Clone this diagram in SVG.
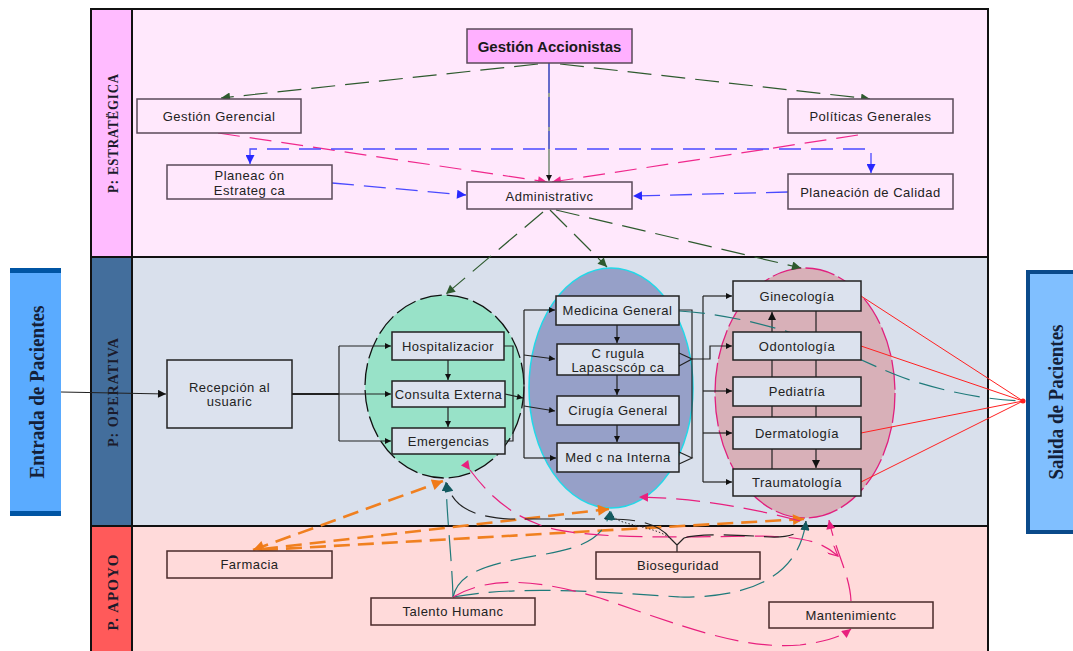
<svg xmlns="http://www.w3.org/2000/svg" width="1073" height="651" viewBox="0 0 1073 651">
  <style>
    .t { font-family: "Liberation Sans", Arial, sans-serif; font-size: 13px; letter-spacing: 0.5px; fill: #222; text-anchor: middle; dominant-baseline: central; }
    .tb { font-family: "Liberation Sans", Arial, sans-serif; font-size: 15px; font-weight: bold; fill: #1a1a1a; text-anchor: middle; dominant-baseline: central; }
    .band { font-family: "Liberation Serif", "Times New Roman", serif; font-size: 15px; font-weight: bold; letter-spacing: 1px; fill: #1b1b2b; text-anchor: middle; dominant-baseline: central; }
    .io { font-family: "Liberation Serif", "Times New Roman", serif; font-size: 20px; font-weight: bold; fill: #142038; text-anchor: middle; dominant-baseline: central; }
    .bs { fill: #FFE8FC; stroke: #5A4A58; stroke-width: 1.5; }
    .bo { fill: #DCE2EE; stroke: #222; stroke-width: 1.5; }
    .ba { fill: #FFDADA; stroke: #4A2A2A; stroke-width: 1.5; }
    .c { fill: none; }
    .dg { stroke: #2E5A2E; stroke-width: 1.2; stroke-dasharray: 24 10; }
    .pk { stroke: #F0288C; stroke-width: 1.2; stroke-dasharray: 22 10; }
    .bl { stroke: #4A4AFF; stroke-width: 1.3; stroke-dasharray: 22 10; }
    .k { stroke: #222; stroke-width: 1.2; }
    .rd { stroke: #FF2020; stroke-width: 1; }
    .tl { stroke: #1F7A7A; stroke-width: 1.2; stroke-dasharray: 26 10; }
    .or { stroke: #F08020; stroke-width: 2.6; stroke-dasharray: 16 8; }
    .mg { stroke: #E8207E; stroke-width: 1.2; stroke-dasharray: 24 10; }
    .kd { stroke: #222; stroke-width: 1.1; stroke-dasharray: 30 10; }
  </style>
  <defs>
    <marker id="mG" viewBox="0 0 10 10" refX="10" refY="5" markerWidth="13" markerHeight="9" markerUnits="userSpaceOnUse" orient="auto"><path d="M0,0 L10,5 L0,10 z" fill="#2E5A2E"/></marker>
    <marker id="mP" viewBox="0 0 10 10" refX="10" refY="5" markerWidth="13" markerHeight="9" markerUnits="userSpaceOnUse" orient="auto"><path d="M0,0 L10,5 L0,10 z" fill="#F0288C"/></marker>
    <marker id="mB" viewBox="0 0 10 10" refX="10" refY="5" markerWidth="13" markerHeight="9" markerUnits="userSpaceOnUse" orient="auto-start-reverse"><path d="M0,0 L10,5 L0,10 z" fill="#2828FF"/></marker>
    <marker id="mK" viewBox="0 0 10 10" refX="10" refY="5" markerWidth="8" markerHeight="6" markerUnits="userSpaceOnUse" orient="auto"><path d="M0,0 L10,5 L0,10 z" fill="#111"/></marker>
    <marker id="mK2" viewBox="0 0 10 10" refX="10" refY="5" markerWidth="12" markerHeight="8" markerUnits="userSpaceOnUse" orient="auto"><path d="M0,0 L10,5 L0,10 z" fill="#111"/></marker>
    <marker id="mO" viewBox="0 0 10 10" refX="10" refY="5" markerWidth="16" markerHeight="11" markerUnits="userSpaceOnUse" orient="auto-start-reverse"><path d="M0,0 L10,5 L0,10 z" fill="#F07A18"/></marker>
    <marker id="mT" viewBox="0 0 10 10" refX="10" refY="5" markerWidth="11" markerHeight="9" markerUnits="userSpaceOnUse" orient="auto"><path d="M0,0 L10,5 L0,10 z" fill="#145A60"/></marker>
    <marker id="mM" viewBox="0 0 10 10" refX="10" refY="5" markerWidth="13" markerHeight="9" markerUnits="userSpaceOnUse" orient="auto"><path d="M0,0 L10,5 L0,10 z" fill="#E8207E"/></marker>
    <marker id="mV" viewBox="0 0 10 10" refX="10" refY="5" markerWidth="12" markerHeight="10" markerUnits="userSpaceOnUse" orient="auto"><path d="M0,0 L10,5 L0,10" fill="none" stroke="#E8207E" stroke-width="1.2"/></marker>
  </defs>

  <!-- swimlane bands -->
  <g id="lanes">
    <rect x="132" y="9" width="856" height="248" fill="#FFE8FC"/>
    <rect x="132" y="257" width="856" height="269" fill="#D9E0EC"/>
    <rect x="132" y="526" width="856" height="125" fill="#FFDADA"/>
    <rect x="91" y="9" width="41" height="248" fill="#FFBBFF"/>
    <rect x="91" y="257" width="41" height="269" fill="#436E9C"/>
    <rect x="91" y="526" width="41" height="125" fill="#FF5A5A"/>
    <path d="M91,652 L91,9 L988,9 L988,652 M132,9 L132,652 M91,257 L988,257 M91,526 L988,526" fill="none" stroke="#111" stroke-width="2"/>
    <text class="band" transform="translate(113,133) rotate(-90)" textLength="120" lengthAdjust="spacingAndGlyphs">P: ESTRATËGICA</text>
    <text class="band" transform="translate(113,392) rotate(-90)" textLength="110" lengthAdjust="spacingAndGlyphs">P: OPERATIVA</text>
    <text class="band" transform="translate(113,592) rotate(-90)" textLength="77" lengthAdjust="spacingAndGlyphs">P. APOYO</text>
  </g>

  <!-- process groupings -->
  <g id="zonas">
    <ellipse cx="444.5" cy="386.5" rx="79.5" ry="91.5" fill="#98E2C8" stroke="#111" stroke-width="1.3" stroke-dasharray="22 5"/>
    <ellipse cx="611" cy="388" rx="82" ry="120" fill="#96A0C8" stroke="#22D8E8" stroke-width="1.5"/>
    <ellipse cx="805" cy="393" rx="90" ry="125" fill="#D8B0B8" stroke="#E0207E" stroke-width="1.3" stroke-dasharray="30 4"/>
  </g>

  <!-- connectors -->
  <g id="connectors" class="c">
    <!-- strategic level -->
    <path class="c dg" d="M538,64 L221,98" marker-end="url(#mG)"/>
    <path class="c dg" d="M560,64 L870,99" marker-end="url(#mG)"/>
    <path class="c" d="M549,63 L549,181" stroke="#2E5A2E" stroke-width="1" marker-end="url(#mK)"/>
    <path class="c" d="M549,63 L549,149" stroke="#3535FF" stroke-width="1" stroke-dasharray="30 4"/>
    <path class="c pk" d="M218,133 L547,182" marker-end="url(#mP)"/>
    <path class="c pk" d="M858,135 L552,182" marker-end="url(#mP)"/>
    <path class="c bl" d="M250,164 L250,149 L871,149 L871,173" marker-start="url(#mB)" marker-end="url(#mB)"/>
    <path class="c bl" d="M332,183 L466,195" marker-end="url(#mB)"/>
    <path class="c bl" d="M788,192 L633,196" marker-end="url(#mB)"/>
    <path class="c dg" d="M543,212 L446,294" marker-end="url(#mG)"/>
    <path class="c dg" d="M550,210 L607,267" marker-end="url(#mG)"/>
    <path class="c dg" d="M556,210 L801,268" marker-end="url(#mG)"/>

    <!-- patient flow -->
    <path class="c k" d="M61,392 L166,394" marker-end="url(#mK2)"/>
    <path class="c" d="M292,394 L339,394" stroke="#222" stroke-width="2"/>
    <path class="c k" d="M339,346 L339,441"/>
    <path class="c k" d="M339,346 L391,346" marker-end="url(#mK)"/>
    <path class="c k" d="M339,394 L391,394" marker-end="url(#mK)"/>
    <path class="c k" d="M339,441 L391,441" marker-end="url(#mK)"/>
    <path class="c k" d="M448,360 L448,380" marker-end="url(#mK)"/>
    <path class="c k" d="M448,407 L448,427" marker-end="url(#mK)"/>
    <path class="c k" d="M504,346 L513,346 L513,441 L505,441"/>
    <path class="c k" d="M505,394 L523,398" marker-end="url(#mK)"/>
    <path class="c k" d="M524,310 L524,458"/>
    <path class="c k" d="M524,310 L555,310" marker-end="url(#mK)"/>
    <path class="c k" d="M524,355 L555,359" marker-end="url(#mK)"/>
    <path class="c k" d="M524,406 L555,411" marker-end="url(#mK)"/>
    <path class="c k" d="M524,458 L556,458" marker-end="url(#mK)"/>
    <path class="c k" d="M617,325 L617,343" marker-end="url(#mK)"/>
    <path class="c k" d="M617,375 L617,395" marker-end="url(#mK)"/>
    <path class="c k" d="M617,425 L617,442" marker-end="url(#mK)"/>
    <path class="c k" d="M679,310 L692,310 L692,458"/>
    <path class="c k" d="M679,353 L692,359 L679,366 M679,452 L692,458 L679,464"/>
    <path class="c k" d="M692,359 L710,359 L710,346 L732,346" marker-end="url(#mK)"/>
    <path class="c k" d="M703,296 L703,482"/>
    <path class="c k" d="M703,296 L732,296" marker-end="url(#mK)"/>
    <path class="c k" d="M703,391 L732,391" marker-end="url(#mK)"/>
    <path class="c k" d="M703,433 L732,433" marker-end="url(#mK)"/>
    <path class="c k" d="M703,482 L732,482" marker-end="url(#mK)"/>
    <path class="c k" d="M772,332 L772,312" marker-end="url(#mK2)"/>
    <path class="c k" d="M772,360 L772,377 M772,406 L772,417 M772,449 L772,469"/>
    <path class="c k" d="M816,311 L816,332 M816,360 L816,377 M816,406 L816,417"/>
    <path class="c k" d="M816,449 L816,468" marker-end="url(#mK2)"/>
    <path class="c rd" d="M861,296 L1023,401 M861,346 L1023,401 M861,433 L1023,401 M861,482 L1023,401"/>
    <circle cx="1023" cy="401" r="2.5" fill="#FF2020"/>
    <path class="c tl" d="M679,311 C720,313 770,325 810,339 C850,353 880,370 910,380 C950,393 990,400 1022,401"/>

    <!-- support services -->
    <path class="c or" d="M253,550 L443,481" marker-start="url(#mO)" marker-end="url(#mO)"/>
    <path class="c or" d="M262,549 L609,509" marker-end="url(#mO)"/>
    <path class="c or" d="M262,550 L804,519" marker-end="url(#mO)"/>
    <path class="c tl" d="M453,597 C452,560 447,520 446,482" marker-end="url(#mT)"/>
    <path class="c tl" d="M453,597 C458,575 480,565 540,555 C590,547 605,535 610,511" marker-end="url(#mT)"/>
    <path class="c tl" d="M453,597 C520,585 600,592 680,597 C760,598 800,570 806,521" marker-end="url(#mT)"/>
    <path class="c mg" d="M453,597 C490,575 540,580 600,598 C680,625 740,650 800,645 C830,641 842,636 851,629" marker-end="url(#mM)"/>
    <path class="c mg" d="M851,601 C850,575 835,550 829,520" stroke-width="2" marker-end="url(#mM)"/>
    <path class="c mg" d="M470,470 C485,490 505,512 540,525 C580,540 680,537 760,536 C800,537 820,540 838,556" marker-start="url(#mM)" marker-end="url(#mV)"/>
    <path class="c mg" d="M800,521 C760,510 700,498 639,497" marker-end="url(#mM)"/>
    <path class="c" d="M677,552 L677,545 L670,538 M677,545 L684,538" stroke="#222" stroke-width="1.2"/>
    <path class="c kd" d="M670,538 C660,525 640,519 610,519 L510,519 C470,517 452,505 447,483" marker-end="url(#mT)"/>
    <path class="c" d="M672,540 C660,528 630,526 618,520 C613,517 611,514 611,511" stroke="#333" stroke-width="1" stroke-dasharray="1.5 2" marker-end="url(#mT)"/>
    <path class="c kd" d="M684,538 C700,533 740,535 770,537 C795,538 805,530 806,521" marker-end="url(#mT)"/>
  </g>

  <!-- entry / exit -->
  <g id="entrada">
    <rect x="10" y="268" width="51" height="248" fill="#5AABFF"/>
    <rect x="10" y="268" width="51" height="5" fill="#0055A4"/>
    <rect x="10" y="511" width="51" height="5" fill="#0055A4"/>
    <text class="io" transform="translate(37,392) rotate(-90)" textLength="173" lengthAdjust="spacingAndGlyphs">Entrada de Pacientes</text>
  </g>
  <g id="salida">
    <rect x="1028" y="272" width="60" height="260" fill="#80BFFF" stroke="#0A4A8A" stroke-width="4"/>
    <text class="io" transform="translate(1056,402) rotate(-90)" textLength="155" lengthAdjust="spacingAndGlyphs">Salida de Pacientes</text>
  </g>

  <!-- strategic nodes -->
  <g id="gestion-accionistas"><rect x="467" y="29" width="165" height="34" fill="#FFB0FF" stroke="#5A4A58" stroke-width="1.5"/><text class="tb" x="549.5" y="46">Gestión Accionistas</text></g>
  <g id="gestion-gerencial"><rect class="bs" x="137" y="99" width="164" height="34"/><text class="t" x="219" y="116">Gestión Gerencial</text></g>
  <g id="politicas-generales"><rect class="bs" x="788" y="99" width="165" height="34"/><text class="t" x="870.5" y="116">Políticas Generales</text></g>
  <g id="planeacion-estrategica"><rect class="bs" x="167" y="165" width="165" height="34"/><text class="t" x="249.5" y="175">Planeac ón</text><text class="t" x="249.5" y="190">Estrateg ca</text></g>
  <g id="administrativo"><rect class="bs" x="467" y="182" width="165" height="27"/><text class="t" x="549.5" y="196">Administrativc</text></g>
  <g id="planeacion-calidad"><rect class="bs" x="788" y="174" width="165" height="35"/><text class="t" x="870.5" y="192">Planeación de Calidad</text></g>

  <!-- operative nodes -->
  <g id="recepcion"><rect class="bo" x="167" y="360" width="125" height="68"/><text class="t" x="229.5" y="387">Recepción al</text><text class="t" x="229.5" y="401">usuaric</text></g>
  <g id="hospitalizacion"><rect class="bo" x="392" y="332" width="112" height="28"/><text class="t" x="448" y="346">Hospitalizacior</text></g>
  <g id="consulta-externa"><rect class="bo" x="392" y="381" width="113" height="26"/><text class="t" x="448.5" y="394">Consulta Externa</text></g>
  <g id="emergencias"><rect class="bo" x="392" y="428" width="113" height="26"/><text class="t" x="448.5" y="441">Emergencias</text></g>
  <g id="medicina-general"><rect class="bo" x="556" y="296" width="123" height="29"/><text class="t" x="617.5" y="310.5">Medicina General</text></g>
  <g id="cirugia-laparoscopica"><rect class="bo" x="557" y="344" width="122" height="31"/><text class="t" x="618" y="353">C rugula</text><text class="t" x="618" y="367">Lapascscóp ca</text></g>
  <g id="cirugia-general"><rect class="bo" x="557" y="396" width="122" height="29"/><text class="t" x="618" y="410.5">Cirugía General</text></g>
  <g id="medicina-interna"><rect class="bo" x="557" y="443" width="122" height="29"/><text class="t" x="618" y="457.5">Med c na Interna</text></g>
  <g id="ginecologia"><rect class="bo" x="733" y="281" width="128" height="30"/><text class="t" x="797" y="296">Ginecología</text></g>
  <g id="odontologia"><rect class="bo" x="733" y="332" width="128" height="28"/><text class="t" x="797" y="346">Odontología</text></g>
  <g id="pediatria"><rect class="bo" x="733" y="377" width="128" height="29"/><text class="t" x="797" y="391.5">Pediatría</text></g>
  <g id="dermatologia"><rect class="bo" x="733" y="417" width="128" height="32"/><text class="t" x="797" y="433">Dermatología</text></g>
  <g id="traumatologia"><rect class="bo" x="733" y="469" width="128" height="27"/><text class="t" x="797" y="482.5">Traumatología</text></g>

  <!-- support nodes -->
  <g id="farmacia"><rect class="ba" x="167" y="551" width="165" height="27"/><text class="t" x="249.5" y="564.5">Farmacia</text></g>
  <g id="talento-humano"><rect class="ba" x="371" y="598" width="164" height="27"/><text class="t" x="453" y="611.5">Talento Humanc</text></g>
  <g id="bioseguridad"><rect class="ba" x="596" y="552" width="164" height="27"/><text class="t" x="678" y="565.5">Bioseguridad</text></g>
  <g id="mantenimiento"><rect class="ba" x="769" y="602" width="164" height="26"/><text class="t" x="851" y="615">Mantenimientc</text></g>
</svg>
